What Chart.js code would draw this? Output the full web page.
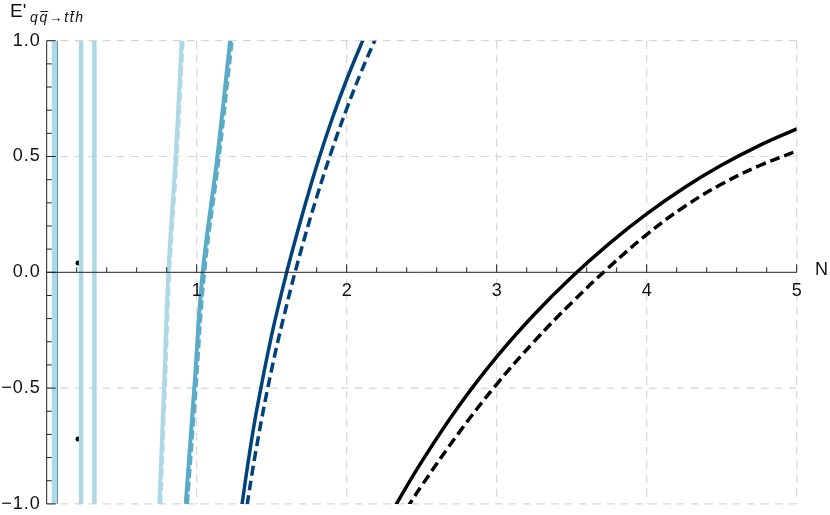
<!DOCTYPE html>
<html>
<head>
<meta charset="utf-8">
<script src="https://cdn.jsdelivr.net/npm/chart.js@4/dist/chart.umd.min.js"></script>
<style>
  html, body { margin: 0; padding: 0; background: #fff; }
  #wrap { width: 830px; height: 515px; }
</style>
</head>
<body>
<div id="wrap"><canvas id="chart" width="830" height="515"></canvas></div>
<script>
// curve values (N on x, E' on y)
const lightSolidX = [0.751, 0.782, 0.811, 0.860, 0.900];
const lightSolidY = [-1.0, -0.5, 0.0, 0.5, 1.0];
const lightDashX = [0.757, 0.788, 0.817, 0.866, 0.906];
const lightDashY = [-1.0, -0.5, 0.0, 0.5, 1.0];

const midSolidX = [0.927, 0.984, 1.040, 1.138, 1.223];
const midSolidY = [-1.0, -0.5, 0.0, 0.5, 1.0];
const midDashX = [0.936, 0.993, 1.050, 1.148, 1.234];
const midDashY = [-1.0, -0.5, 0.0, 0.5, 1.0];

const darkSolidX = [1.29, 1.35, 1.40, 1.50, 1.60, 1.70, 1.80, 1.90, 2.00, 2.10, 2.15];
const darkSolidY = [-1.056, -0.79, -0.595, -0.27, 0.0, 0.24, 0.46, 0.6575, 0.8325, 0.99, 1.063];
const darkDashX = [1.32, 1.40, 1.50, 1.60, 1.70, 1.80, 1.90, 2.00, 2.10, 2.20];
const darkDashY = [-1.07, -0.751, -0.4185, -0.141, 0.105, 0.325, 0.525, 0.706, 0.871, 1.02];

const blackSolidX = [2.3, 2.5, 2.75, 3.0, 3.25, 3.5, 3.75, 4.0, 4.25, 4.5, 4.75, 5.0];
const blackSolidY = [-1.035, -0.8175, -0.575, -0.365, -0.182, -0.020, 0.124, 0.252, 0.365, 0.463, 0.547, 0.619];
const blackDashX = [2.4, 2.5, 2.75, 3.0, 3.25, 3.5, 3.75, 4.0, 4.25, 4.5, 4.75, 5.0];
const blackDashY = [-1.02, -0.921, -0.691, -0.4835, -0.2985, -0.131, 0.0226, 0.163, 0.283, 0.381, 0.46, 0.524];

// vertical jumps near the poles
const lightPoles = [0.229, 0.318];
const bandPole = 0.052;
const darkPole = 0.069;

// two stray points
const dotX = [0.209, 0.209];
const dotY = [0.04, -0.72];

const xTicks = [1, 2, 3, 4, 5];
const yTicks = [1.0, 0.5, 0.0, -0.5, -1.0];
const yTickLabels = ['1.0', '0.5', '0.0', '\u22120.5', '\u22121.0'];

const LIGHT = '#add8e6';
const MID = '#5aabc8';
const DARK = '#00427a';
const FONT = '"Liberation Sans", Arial, sans-serif';

const toPoints = (xs, ys) => xs.map((x, i) => ({ x: x, y: ys[i] }));

const curve = (xs, ys, color, width, dash) => ({
  data: toPoints(xs, ys),
  showLine: true,
  borderColor: color,
  borderWidth: width,
  borderDash: dash || [],
  pointRadius: 0,
  tension: 0.4,
  fill: false
});

const pole = (x, color, width) => ({
  data: [{ x: x, y: -1 }, { x: x, y: 1 }],
  showLine: true,
  borderColor: color,
  borderWidth: width,
  pointRadius: 0,
  tension: 0,
  fill: false
});

const axesPlugin = {
  id: 'mmaAxes',
  beforeDatasetsDraw(chart) {
    const ctx = chart.ctx;
    const xs = chart.scales.x;
    const ys = chart.scales.y;
    ctx.save();
    ctx.strokeStyle = '#d6d6d6';
    ctx.lineWidth = 1.2;
    ctx.setLineDash([8, 6]);
    xTicks.forEach((v) => {
      const px = xs.getPixelForValue(v);
      ctx.beginPath();
      ctx.moveTo(px, ys.getPixelForValue(1));
      ctx.lineTo(px, ys.getPixelForValue(-1));
      ctx.stroke();
    });
    [1, 0.5, -0.5, -1].forEach((v) => {
      const py = ys.getPixelForValue(v);
      ctx.beginPath();
      ctx.moveTo(xs.getPixelForValue(0), py);
      ctx.lineTo(xs.getPixelForValue(5), py);
      ctx.stroke();
    });
    ctx.restore();
  },
  afterDatasetsDraw(chart) {
    const ctx = chart.ctx;
    const xs = chart.scales.x;
    const ys = chart.scales.y;
    const x0 = xs.getPixelForValue(0);
    const y0 = ys.getPixelForValue(0);
    ctx.save();
    ctx.strokeStyle = '#222';
    ctx.lineWidth = 1;
    ctx.setLineDash([]);
    // axes
    ctx.beginPath();
    ctx.moveTo(x0, y0);
    ctx.lineTo(xs.getPixelForValue(5), y0);
    ctx.moveTo(x0, ys.getPixelForValue(1));
    ctx.lineTo(x0, ys.getPixelForValue(-1));
    ctx.stroke();
    // x ticks every 0.2, pointing up
    for (let i = 1; i <= 25; i++) {
      const px = xs.getPixelForValue(i * 0.2);
      const len = i % 5 === 0 ? 8 : 5;
      ctx.beginPath();
      ctx.moveTo(px, y0);
      ctx.lineTo(px, y0 - len);
      ctx.stroke();
    }
    // y ticks every 0.1, pointing right
    for (let i = -10; i <= 10; i++) {
      const py = ys.getPixelForValue(i * 0.1);
      const len = i % 5 === 0 ? 9 : 5;
      ctx.beginPath();
      ctx.moveTo(x0, py);
      ctx.lineTo(x0 + len, py);
      ctx.stroke();
    }
    // labels
    ctx.fillStyle = '#111';
    ctx.font = '18px ' + FONT;
    ctx.textAlign = 'center';
    ctx.textBaseline = 'top';
    xTicks.forEach((v) => {
      ctx.fillText(String(v), xs.getPixelForValue(v), y0 + 10);
    });
    ctx.textAlign = 'right';
    ctx.textBaseline = 'middle';
    ctx.letterSpacing = '1px';
    yTicks.forEach((v, i) => {
      ctx.fillText(yTickLabels[i], x0 - 6, ys.getPixelForValue(v));
    });
    ctx.letterSpacing = '0px';
    ctx.textAlign = 'left';
    ctx.font = '18px ' + FONT;
    ctx.fillText('N', 815, y0 - 2);

    // y title: E'_{q qbar -> t tbar h}
    ctx.textBaseline = 'alphabetic';
    ctx.font = '19px ' + FONT;
    ctx.fillText("E'", 10, 17);
    ctx.font = 'italic 14px ' + FONT;
    let cx = 30;
    const by = 22;
    const parts = [['q', false], ['q', true], ['\u2192', false], ['t', false], ['t', true], ['h', false]];
    parts.forEach((p) => {
      const w = ctx.measureText(p[0]).width;
      ctx.fillText(p[0], cx, by);
      if (p[1]) {
        ctx.beginPath();
        ctx.lineWidth = 1;
        ctx.moveTo(cx + 1, by - 10.5);
        ctx.lineTo(cx + w + 1, by - 10.5);
        ctx.stroke();
      }
      cx += w + 1.6;
    });
    ctx.restore();
  }
};

const ctx = document.getElementById('chart').getContext('2d');
const chart = new Chart(ctx, {
  type: 'scatter',
  data: {
    datasets: [
      pole(bandPole, LIGHT, 5.5),
      pole(darkPole, DARK, 1.3),
      pole(lightPoles[0], LIGHT, 4.5),
      pole(lightPoles[1], LIGHT, 4.5),
      curve(lightDashX, lightDashY, LIGHT, 4, [9, 4]),
      curve(lightSolidX, lightSolidY, LIGHT, 4),
      curve(midDashX, midDashY, MID, 4, [9, 4]),
      curve(midSolidX, midSolidY, MID, 4),
      curve(darkDashX, darkDashY, DARK, 3.5, [10, 5]),
      curve(darkSolidX, darkSolidY, DARK, 3.5),
      curve(blackDashX, blackDashY, '#000', 3.5, [10, 5]),
      curve(blackSolidX, blackSolidY, '#000', 3.5),
      {
        data: toPoints(dotX, dotY),
        pointRadius: 2.5,
        pointBackgroundColor: '#000',
        pointBorderWidth: 0,
        showLine: false
      }
    ]
  },
  options: {
    responsive: false,
    animation: false,
    devicePixelRatio: 1,
    layout: { padding: { left: 46.7, right: 33.3, top: 40.7, bottom: 11.1 } },
    scales: {
      x: { type: 'linear', min: 0, max: 5, display: false },
      y: { type: 'linear', min: -1, max: 1, display: false }
    },
    plugins: {
      legend: { display: false },
      tooltip: { enabled: false }
    }
  },
  plugins: [axesPlugin]
});
</script>
</body>
</html>
